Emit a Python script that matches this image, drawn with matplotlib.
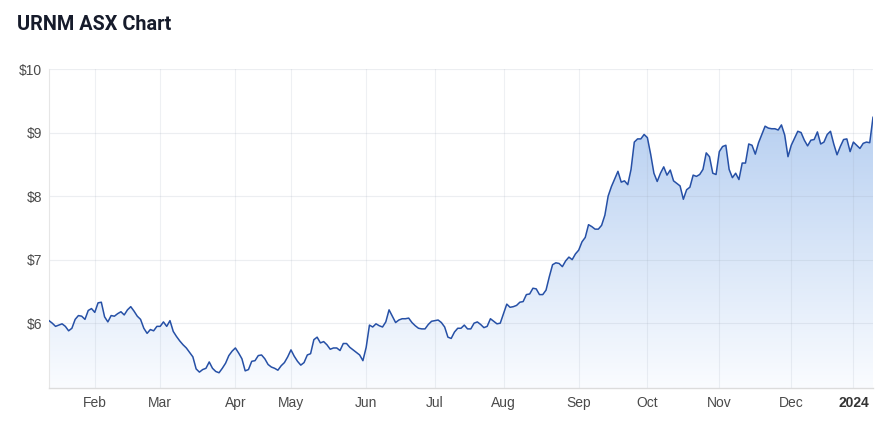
import numpy as np
import pandas as pd
import matplotlib
matplotlib.use("Agg")
import matplotlib.pyplot as plt
from matplotlib.colors import LinearSegmentedColormap

# ---- data -------------------------------------------------------------
asx_holidays = ["2023-01-26", "2023-04-07", "2023-04-10", "2023-04-25",
                "2023-06-12", "2023-12-25", "2023-12-26", "2024-01-01"]
start_date = "2023-01-11"
end_date = "2024-01-10"

prices = [
    6.04, 6.00, 5.95, 5.97, 5.99, 5.95, 5.88, 5.92, 6.06, 6.12,
    6.11, 6.06, 6.20, 6.23, 6.17, 6.32, 6.33, 6.10, 6.02, 6.12,
    6.11, 6.15, 6.18, 6.13, 6.21, 6.26, 6.19, 6.11, 6.06, 5.92,
    5.84, 5.90, 5.88, 5.95, 5.95, 6.02, 5.95, 6.04, 5.87, 5.79,
    5.72, 5.66, 5.61, 5.54, 5.47, 5.28, 5.23, 5.27, 5.29, 5.39,
    5.29, 5.24, 5.22, 5.29, 5.37, 5.49, 5.56, 5.61, 5.53, 5.44,
    5.25, 5.27, 5.40, 5.41, 5.49, 5.50, 5.44, 5.35, 5.31, 5.29,
    5.26, 5.33, 5.38, 5.47, 5.58, 5.48, 5.40, 5.34, 5.38, 5.50,
    5.52, 5.74, 5.78, 5.69, 5.71, 5.66, 5.59, 5.61, 5.61, 5.57,
    5.68, 5.68, 5.62, 5.58, 5.54, 5.50, 5.41, 5.62, 5.97, 5.94,
    5.99, 5.96, 5.94, 6.02, 6.21, 6.11, 6.01, 6.05, 6.07, 6.07,
    6.08, 6.01, 5.96, 5.92, 5.91, 5.91, 5.98, 6.03, 6.04, 6.05,
    6.01, 5.94, 5.78, 5.76, 5.86, 5.92, 5.92, 5.97, 5.91, 5.91,
    6.00, 6.02, 5.98, 5.93, 5.95, 6.07, 6.03, 5.99, 6.00, 6.15,
    6.30, 6.25, 6.26, 6.28, 6.33, 6.34, 6.45, 6.46, 6.55, 6.54,
    6.45, 6.45, 6.52, 6.73, 6.92, 6.95, 6.94, 6.89, 6.98, 7.04,
    7.00, 7.09, 7.15, 7.28, 7.35, 7.55, 7.52, 7.48, 7.48, 7.54,
    7.70, 8.00, 8.15, 8.27, 8.39, 8.22, 8.24, 8.18, 8.42, 8.85,
    8.90, 8.90, 8.97, 8.92, 8.66, 8.36, 8.23, 8.36, 8.46, 8.33,
    8.41, 8.24, 8.20, 8.16, 7.95, 8.10, 8.14, 8.33, 8.31, 8.34,
    8.42, 8.68, 8.62, 8.36, 8.34, 8.70, 8.78, 8.80, 8.42, 8.29,
    8.36, 8.26, 8.52, 8.52, 8.82, 8.80, 8.66, 8.84, 8.97, 9.10,
    9.07, 9.06, 9.06, 9.04, 9.12, 8.96, 8.62, 8.80, 8.91, 9.02,
    9.00, 8.88, 8.79, 8.88, 8.89, 9.01, 8.82, 8.85, 8.97, 9.02,
    8.82, 8.65, 8.78, 8.89, 8.90, 8.70, 8.85, 8.80, 8.75, 8.83,
    8.85, 8.84, 9.24,
]

y_ticks = [6, 7, 8, 9, 10]
y_tick_labels = ["$6", "$7", "$8", "$9", "$10"]
title = "URNM ASX Chart"

# ---- derived -------------------------------------------------------------
dates = pd.bdate_range(start_date, end_date, freq="C", holidays=asx_holidays)
n = min(len(dates), len(prices))
dates = dates[:n]
vals = np.array(prices[:n])
idx = np.arange(n)

# first trading day of each month
periods = dates.to_period("M")
tick_pos, tick_lab = [], []
for i in range(1, n):
    if periods[i] != periods[i - 1]:
        tick_pos.append(i)
        d = dates[i]
        tick_lab.append(str(d.year) if d.month == 1 else d.strftime("%b"))

# ---- figure -------------------------------------------------------------
W, H = 893, 422
fig = plt.figure(figsize=(W / 100, H / 100), dpi=100)
fig.patch.set_facecolor("white")
ax = fig.add_axes([49 / W, (H - 388) / H, 824 / W, (388 - 69) / H])
ax.set_facecolor("white")

ymin, ymax = 4.98, 10.0
ax.set_xlim(0, n - 1)
ax.set_ylim(ymin, ymax)

# gradient fill under the line
poly = ax.fill_between(idx, vals, ymin, color="none", lw=0, zorder=1)
cmap = LinearSegmentedColormap.from_list(
    "g", [(0.0, "#fafcff"), (1.0, "#b8d0f1")])
grad = np.linspace(0, 1, 256).reshape(-1, 1)
im = ax.imshow(grad, extent=[0, n - 1, ymin, vals.max()], origin="lower",
               aspect="auto", cmap=cmap, zorder=1, interpolation="bilinear")
path = poly.get_paths()[0]
im.set_clip_path(path, transform=ax.transData)

ax.plot(idx, vals, color="#2650a6", lw=1.1, zorder=3,
        solid_joinstyle="round")

# grid
for y in y_ticks:
    ax.axhline(y, color="#9aa5b5", alpha=0.18, lw=0.8, zorder=2)
for x in tick_pos:
    ax.axvline(x, color="#9aa5b5", alpha=0.16, lw=0.8, zorder=2)

for s in ["top", "right"]:
    ax.spines[s].set_visible(False)
ax.spines["left"].set_color("#e6e6e6")
ax.spines["left"].set_linewidth(0.8)
ax.spines["bottom"].set_color("#dcdcdc")
ax.spines["bottom"].set_linewidth(1.0)

ax.set_yticks(y_ticks)
ax.set_yticklabels(y_tick_labels)
ax.set_xticks(tick_pos)
ax.set_xticklabels(tick_lab)
ax.tick_params(axis="both", length=0, labelsize=10, labelcolor="#4a4a4a")
ax.tick_params(axis="y", pad=5)
ax.tick_params(axis="x", pad=6)
for lab in ax.get_xticklabels() + ax.get_yticklabels():
    lab.set_fontfamily("Liberation Sans")
for lab in ax.get_xticklabels():
    if lab.get_text().isdigit():
        lab.set_fontweight("bold")
        lab.set_color("#333333")

fig.text(17 / W, 1 - 24 / H, title, fontsize=14.3, fontweight="bold",
         family="Roboto", color="#161b2b", va="center", ha="left")

fig.savefig("out.png", dpi=100, facecolor="white")
